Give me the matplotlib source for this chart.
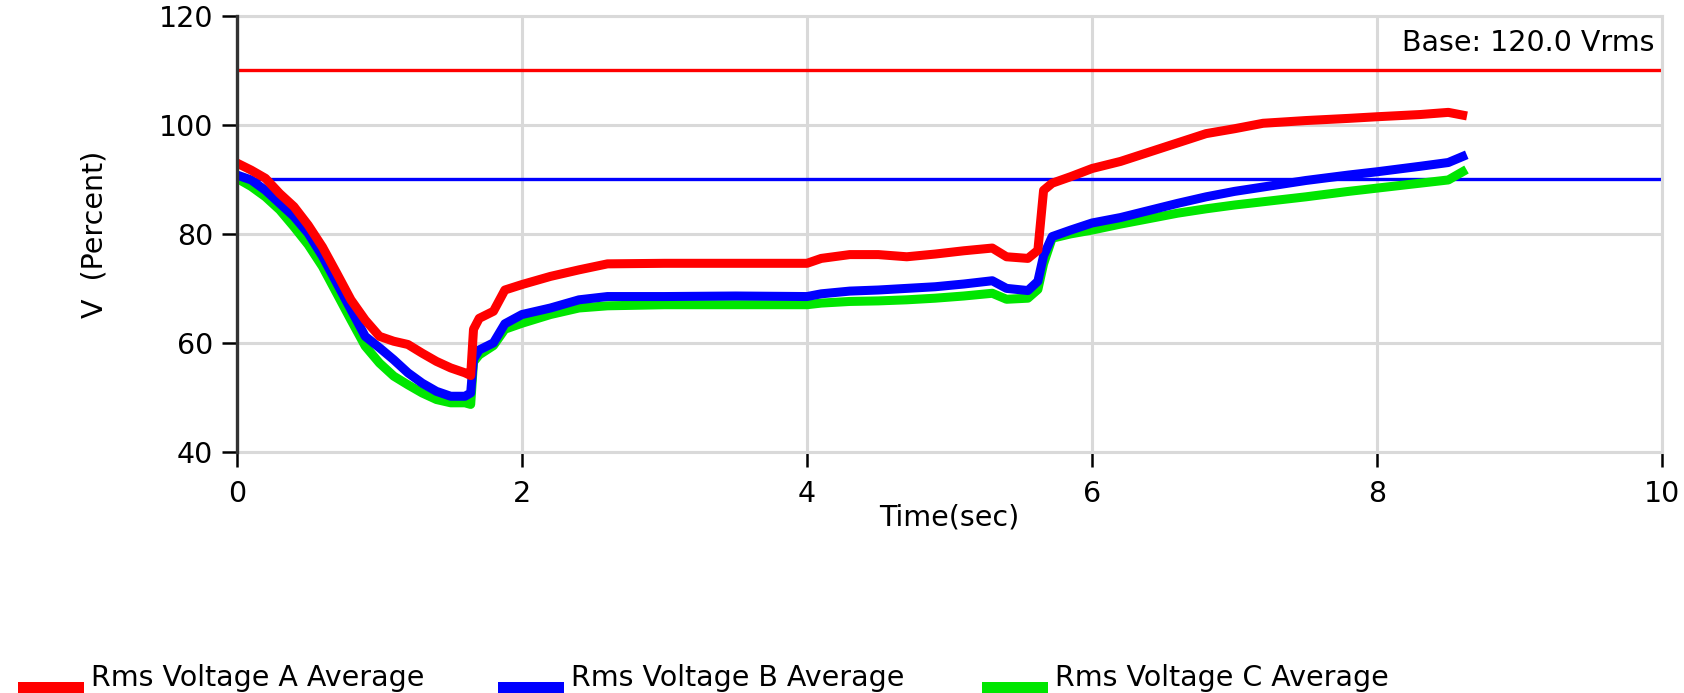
"""
Rms voltage averages (phases A, B, C) during a motor-start style sag.
"""

import matplotlib
matplotlib.use("Agg")
import matplotlib.pyplot as plt
from matplotlib.patches import Rectangle


time_sec = [0, 0.1, 0.2, 0.3, 0.4, 0.5, 0.6, 0.7, 0.8, 0.9, 1.0, 1.1, 1.2, 1.3,
            1.4, 1.5, 1.6, 1.64, 1.66, 1.7, 1.8, 1.88, 2.0, 2.2, 2.4, 2.6, 3.0,
            3.5, 4.0, 4.1, 4.3, 4.5, 4.7, 4.9, 5.1, 5.3, 5.4, 5.55, 5.62, 5.66,
            5.72, 5.85, 6.0, 6.2, 6.4, 6.6, 6.8, 7.0, 7.2, 7.5, 7.8, 8.0, 8.3,
            8.5, 8.6]

volt_a = [93.0, 91.7, 90.2, 87.4, 85.0, 81.6, 77.6, 72.8, 67.9, 64.2, 61.2, 60.3,
          59.7, 58.1, 56.6, 55.4, 54.5, 54.0, 62.5, 64.5, 65.8, 69.7, 70.7, 72.2,
          73.4, 74.5, 74.6, 74.6, 74.6, 75.5, 76.2, 76.2, 75.8, 76.3, 76.9, 77.4,
          75.8, 75.5, 77.0, 88.0, 89.3, 90.5, 92.0, 93.3, 95.0, 96.7, 98.4, 99.3,
          100.3, 100.8, 101.2, 101.5, 101.9, 102.3, 101.8]

volt_b = [90.8, 89.9, 88.0, 85.6, 83.2, 80.1, 75.9, 71.0, 66.1, 61.2, 59.1, 56.9,
          54.5, 52.6, 51.1, 50.2, 50.2, 50.8, 57.0, 58.7, 60.0, 63.5, 65.2, 66.4,
          67.9, 68.5, 68.5, 68.6, 68.5, 69.0, 69.5, 69.7, 70.0, 70.3, 70.8, 71.4,
          70.0, 69.6, 71.3, 76.0, 79.5, 80.7, 82.0, 83.0, 84.3, 85.6, 86.8, 87.8,
          88.6, 89.8, 90.8, 91.4, 92.4, 93.1, 94.2]

volt_c = [90.2, 88.7, 86.8, 84.4, 81.3, 78.0, 74.0, 69.1, 64.2, 59.4, 56.3, 53.9,
          52.3, 50.8, 49.6, 49.0, 49.0, 48.7, 56.5, 57.8, 59.5, 62.5, 63.6, 65.2,
          66.4, 66.8, 67.0, 67.0, 67.0, 67.3, 67.6, 67.7, 67.9, 68.2, 68.6, 69.1,
          68.0, 68.2, 69.8, 74.5, 79.2, 80.0, 80.7, 81.8, 82.8, 83.8, 84.6, 85.3,
          85.9, 86.8, 87.8, 88.4, 89.3, 89.9, 91.4]

series_labels = ["Rms Voltage A Average", "Rms Voltage B Average", "Rms Voltage C Average"]
series_colors = ["#ff0000", "#0000ff", "#00e600"]

upper_limit = 110
lower_limit = 90
base_text = "Base: 120.0 Vrms"

x_ticks = [0, 2, 4, 6, 8, 10]
y_ticks = [40, 60, 80, 100, 120]

FONT = 20.5
GRID = "#d9d9d9"


def main() -> None:
    plt.rcParams["font.family"] = "DejaVu Sans"

    fig = plt.figure(figsize=(16.84, 6.93), dpi=100)
    ax = fig.add_axes([0.1407, 0.348, 0.8463, 0.629])

    ax.axhline(upper_limit, color="#ff0000", lw=2.4, zorder=2)
    ax.axhline(lower_limit, color="#0000ff", lw=2.4, zorder=2)

    # green under blue under red, like the original trace order
    ax.plot(time_sec, volt_c, color=series_colors[2], lw=6.5, zorder=3)
    ax.plot(time_sec, volt_b, color=series_colors[1], lw=6.5, zorder=4)
    ax.plot(time_sec, volt_a, color=series_colors[0], lw=6.5, zorder=5)

    ax.set_xlim(0, 10)
    ax.set_ylim(40, 120)
    ax.set_xticks(x_ticks)
    ax.set_yticks(y_ticks)
    ax.grid(True, color=GRID, lw=2.2, zorder=0)
    ax.set_axisbelow(True)

    for side in ["top", "right", "bottom"]:
        ax.spines[side].set_color(GRID)
        ax.spines[side].set_linewidth(2.2)
    ax.spines["left"].set_color("#333333")
    ax.spines["left"].set_linewidth(2.4)
    ax.spines["left"].set_zorder(6)

    ax.tick_params(axis="both", direction="out", length=11, width=1.8, color="black",
                   labelsize=FONT)
    ax.tick_params(axis="y", pad=6)
    ax.tick_params(axis="x", pad=9)

    ax.set_xlabel("Time(sec)", fontsize=FONT, labelpad=-3)
    ax.set_ylabel("V  (Percent)", fontsize=FONT, labelpad=36)

    ax.text(0.995, 0.938, base_text, transform=ax.transAxes, ha="right", va="center",
            fontsize=FONT)

    # legend strip along the bottom edge
    patch_x = [18, 498, 982]
    for px, label, color in zip(patch_x, series_labels, series_colors):
        fig.add_artist(Rectangle((px / 1684, 0), 66 / 1684, 11 / 693,
                                 transform=fig.transFigure, color=color, lw=0))
        fig.text((px + 73) / 1684, 7 / 693, label, fontsize=FONT, va="baseline",
                 ha="left")

    fig.savefig("out.png", dpi=100)
    plt.close(fig)


if __name__ == "__main__":
    main()
